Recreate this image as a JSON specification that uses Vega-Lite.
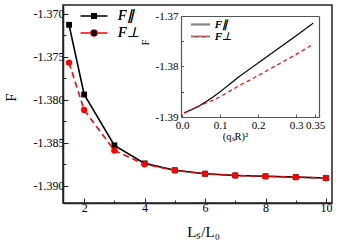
{
  "$schema": "https://vega.github.io/schema/vega-lite/v6.json",
  "width": 269,
  "height": 198,
  "autosize": {"type": "none"},
  "padding": {"left": 63, "top": 5, "right": 17, "bottom": 42},
  "config": {
    "font": "Liberation Serif",
    "view": {"stroke": "#222", "strokeWidth": 1.5},
    "axis": {"labelFont": "Liberation Serif", "titleFont": "Liberation Serif", "labelColor": "#000", "titleColor": "#000", "titleFontWeight": "normal", "grid": false},
    "legend": {"labelFont": "Liberation Serif"}
  },
  "datasets": {
    "main": [
      {"L": 1.5, "F": -1.3713, "s": "F∥"},
      {"L": 2, "F": -1.3794, "s": "F∥"},
      {"L": 3, "F": -1.3853, "s": "F∥"},
      {"L": 4, "F": -1.3874, "s": "F∥"},
      {"L": 5, "F": -1.3882, "s": "F∥"},
      {"L": 6, "F": -1.3886, "s": "F∥"},
      {"L": 7, "F": -1.3888, "s": "F∥"},
      {"L": 8, "F": -1.3889, "s": "F∥"},
      {"L": 9, "F": -1.3890, "s": "F∥"},
      {"L": 10, "F": -1.3891, "s": "F∥"},
      {"L": 1.5, "F": -1.3757, "s": "F⊥"},
      {"L": 2, "F": -1.3812, "s": "F⊥"},
      {"L": 3, "F": -1.3859, "s": "F⊥"},
      {"L": 4, "F": -1.3875, "s": "F⊥"},
      {"L": 5, "F": -1.3882, "s": "F⊥"},
      {"L": 6, "F": -1.3886, "s": "F⊥"},
      {"L": 7, "F": -1.3888, "s": "F⊥"},
      {"L": 8, "F": -1.3889, "s": "F⊥"},
      {"L": 9, "F": -1.3890, "s": "F⊥"},
      {"L": 10, "F": -1.3891, "s": "F⊥"}
    ],
    "inset": [
      {"q": 0.005, "F": -1.3892, "t": "F∥"},
      {"q": 0.02, "F": -1.3887, "t": "F∥"},
      {"q": 0.04, "F": -1.3880, "t": "F∥"},
      {"q": 0.06, "F": -1.3871, "t": "F∥"},
      {"q": 0.08, "F": -1.3861, "t": "F∥"},
      {"q": 0.1, "F": -1.3850, "t": "F∥"},
      {"q": 0.15, "F": -1.3820, "t": "F∥"},
      {"q": 0.2, "F": -1.3793, "t": "F∥"},
      {"q": 0.25, "F": -1.3766, "t": "F∥"},
      {"q": 0.3, "F": -1.3739, "t": "F∥"},
      {"q": 0.345, "F": -1.3714, "t": "F∥"},
      {"q": 0.005, "F": -1.3892, "t": "F⊥"},
      {"q": 0.02, "F": -1.3887, "t": "F⊥"},
      {"q": 0.04, "F": -1.3880, "t": "F⊥"},
      {"q": 0.06, "F": -1.3873, "t": "F⊥"},
      {"q": 0.08, "F": -1.3867, "t": "F⊥"},
      {"q": 0.1, "F": -1.3860, "t": "F⊥"},
      {"q": 0.15, "F": -1.3838, "t": "F⊥"},
      {"q": 0.2, "F": -1.3818, "t": "F⊥"},
      {"q": 0.25, "F": -1.3797, "t": "F⊥"},
      {"q": 0.3, "F": -1.3776, "t": "F⊥"},
      {"q": 0.345, "F": -1.3756, "t": "F⊥"}
    ]
  },
  "layer": [
    {
      "data": {"name": "main"},
      "encoding": {
        "x": {
          "field": "L", "type": "quantitative",
          "scale": {"domain": [1.3, 10.2], "nice": false, "zero": false},
          "axis": {
            "values": [2, 3, 4, 5, 6, 7, 8, 9, 10],
            "labelExpr": "datum.value % 2 == 0 ? datum.label : ''",
            "tickSize": {"condition": {"test": "datum.value % 2 == 0", "value": -5}, "value": -3},
            "tickColor": "#222", "domainColor": "#222", "domainWidth": 1.5,
            "labelFontSize": 12, "labelPadding": 4, "labelFlush": false,
            "title": "Lₛ/L₀", "titleFontSize": 15, "titleX": 140, "titleY": 28, "titleBaseline": "middle"
          }
        },
        "y": {
          "field": "F", "type": "quantitative",
          "scale": {"domain": [-1.392, -1.369], "nice": false, "zero": false},
          "axis": {
            "values": [-1.39, -1.3875, -1.385, -1.3825, -1.38, -1.3775, -1.375, -1.3725, -1.37],
            "labelExpr": "abs(round(datum.value * 10000)) % 50 == 0 ? replace(format(datum.value, '.3f'), '−', '-') : ''",
            "tickSize": {"condition": {"test": "abs(round(datum.value * 10000)) % 50 == 0", "value": -5}, "value": -3},
            "tickColor": "#222", "domainColor": "#222", "domainWidth": 1.5,
            "labelFontSize": 12, "labelPadding": 4, "labelFlush": false,
            "title": "F", "titleFontSize": 15, "titleAngle": -90, "titleX": -53, "titleY": 92, "titleBaseline": "middle", "titleAlign": "center"
          }
        }
      },
      "layer": [
        {
          "transform": [{"filter": {"field": "s", "equal": "F∥"}}],
          "mark": {"type": "line", "color": "#000", "strokeWidth": 1.6}
        },
        {
          "transform": [{"filter": {"field": "s", "equal": "F∥"}}],
          "mark": {"type": "point", "shape": "square", "filled": true, "color": "#000", "size": 34, "opacity": 1}
        },
        {
          "transform": [{"filter": {"field": "s", "equal": "F⊥"}}],
          "mark": {"type": "line", "color": "#ff0000", "strokeWidth": 1.6, "strokeDash": [6, 4]}
        },
        {
          "transform": [{"filter": {"field": "s", "equal": "F⊥"}}],
          "mark": {"type": "point", "shape": "circle", "filled": true, "color": "#ff0000", "size": 40, "opacity": 1}
        },
        {
          "transform": [{"filter": "datum.L < 0"}],
          "mark": {"type": "point", "strokeWidth": 1.6, "opacity": 1},
          "encoding": {
            "fill": {"field": "s", "type": "nominal", "scale": {"domain": ["F∥", "F⊥"], "range": ["#000", "#ff0000"]}, "legend": {"title": null, "orient": "none", "legendX": 24, "legendY": 4, "labelFontSize": 14, "labelFontStyle": "italic", "labelOffset": 17, "rowPadding": 3, "padding": 0, "symbolSize": 36, "symbolOpacity": 1}},
            "stroke": {"field": "s", "type": "nominal", "scale": {"domain": ["F∥", "F⊥"], "range": ["#000", "#ff0000"]}, "legend": {"title": null, "orient": "none", "legendX": 24, "legendY": 4, "labelFontSize": 14, "labelFontStyle": "italic", "labelOffset": 17, "rowPadding": 3, "padding": 0, "symbolSize": 36, "symbolOpacity": 1}},
            "shape": {"field": "s", "type": "nominal", "scale": {"domain": ["F∥", "F⊥"], "range": ["M-4.5,0H4.5M-0.75,-0.75H0.75V0.75H-0.75Z", "M-4.5,0H4.5M1,0A1,1,0,1,0,-1,0A1,1,0,1,0,1,0Z"]}, "legend": {"title": null, "orient": "none", "legendX": 24, "legendY": 4, "labelFontSize": 14, "labelFontStyle": "italic", "labelOffset": 17, "rowPadding": 3, "padding": 0, "symbolSize": 36, "symbolOpacity": 1}},
            "strokeDash": {"field": "s", "type": "nominal", "scale": {"domain": ["F∥", "F⊥"], "range": [[1, 0], [4, 2.5]]}, "legend": {"title": null, "orient": "none", "legendX": 24, "legendY": 4, "labelFontSize": 14, "labelFontStyle": "italic", "labelOffset": 17, "rowPadding": 3, "padding": 0, "symbolSize": 36, "symbolOpacity": 1}}
          }
        }
      ]
    },
    {
      "data": {"name": "inset"},
      "encoding": {
        "x": {
          "field": "q", "type": "quantitative",
          "scale": {"domain": [-0.003, 0.36], "nice": false, "zero": false, "range": [118, 256]}
        },
        "y": {
          "field": "F", "type": "quantitative",
          "scale": {"domain": [-1.39, -1.37], "nice": false, "zero": false, "range": [112, 11]}
        }
      },
      "layer": [
        {
          "mark": {"type": "line", "strokeWidth": 1.2},
          "encoding": {
            "x": {"field": "q", "type": "quantitative", "axis": {
              "orient": "bottom", "offset": -86,
              "values": [0, 0.1, 0.2, 0.3, 0.35],
              "labelExpr": "datum.value == 0.35 ? '0.35' : format(datum.value, '.1f')",
              "tickSize": -3, "tickColor": "#555", "domainColor": "#555", "domainWidth": 1.2,
              "labelFontSize": 11, "labelPadding": 5.5, "labelFlush": false,
              "title": "(qₛR)²", "titleFontSize": 10.5, "titleX": 172, "titleY": 19, "titleBaseline": "middle"
            }},
            "y": {"field": "F", "type": "quantitative", "axis": {
              "orient": "right", "offset": -151,
              "values": [-1.39, -1.385, -1.38, -1.375, -1.37],
              "labelExpr": "abs(round(datum.value * 1000)) % 10 == 0 ? replace(format(datum.value, '.2f'), '−', '-') : ''",
              "tickSize": 2.5,
              "tickColor": "#555", "domainColor": "#555", "domainWidth": 1.2,
              "labelFontSize": 11, "labelPadding": -5.5, "labelFlush": false, "labelAlign": "right",
              "title": "F", "titleFontSize": 10, "titleAngle": -90, "titleX": -36, "titleY": 37, "titleBaseline": "middle", "titleAlign": "center"
            }},
            "color": {"field": "t", "type": "nominal", "scale": {"range": ["#000", "#ff0000"]}, "legend": {"title": null, "orient": "none", "legendX": 132, "legendY": 14, "labelFontSize": 11, "labelFontStyle": "italic", "labelOffset": 9, "rowPadding": 0, "padding": 0, "symbolType": "M-3.8,0H3.8", "symbolSize": 25, "symbolStrokeWidth": 1.5}},
            "strokeDash": {"field": "t", "type": "nominal", "scale": {"range": [[1, 0], [4, 3]]}, "legend": {"title": null, "orient": "none", "legendX": 132, "legendY": 14, "labelFontSize": 11, "labelFontStyle": "italic", "labelOffset": 9, "rowPadding": 0, "padding": 0, "symbolType": "M-3.8,0H3.8", "symbolSize": 25, "symbolStrokeWidth": 1.5}}
          }
        },
        {
          "mark": {"type": "line", "opacity": 0},
          "encoding": {
            "x": {"field": "q", "type": "quantitative", "axis": {"orient": "top", "offset": -11, "labels": false, "ticks": false, "domainColor": "#555", "domainWidth": 1.2, "title": null}},
            "y": {"field": "F", "type": "quantitative", "axis": {"orient": "right", "offset": -13, "labels": false, "ticks": false, "domainColor": "#555", "domainWidth": 1.2, "title": null}}
          }
        }
      ],
      "resolve": {"axis": {"x": "independent", "y": "independent"}}
    }
  ],
  "resolve": {
    "scale": {"x": "independent", "y": "independent", "strokeDash": "independent"},
    "legend": {"strokeDash": "independent"}
  }
}
